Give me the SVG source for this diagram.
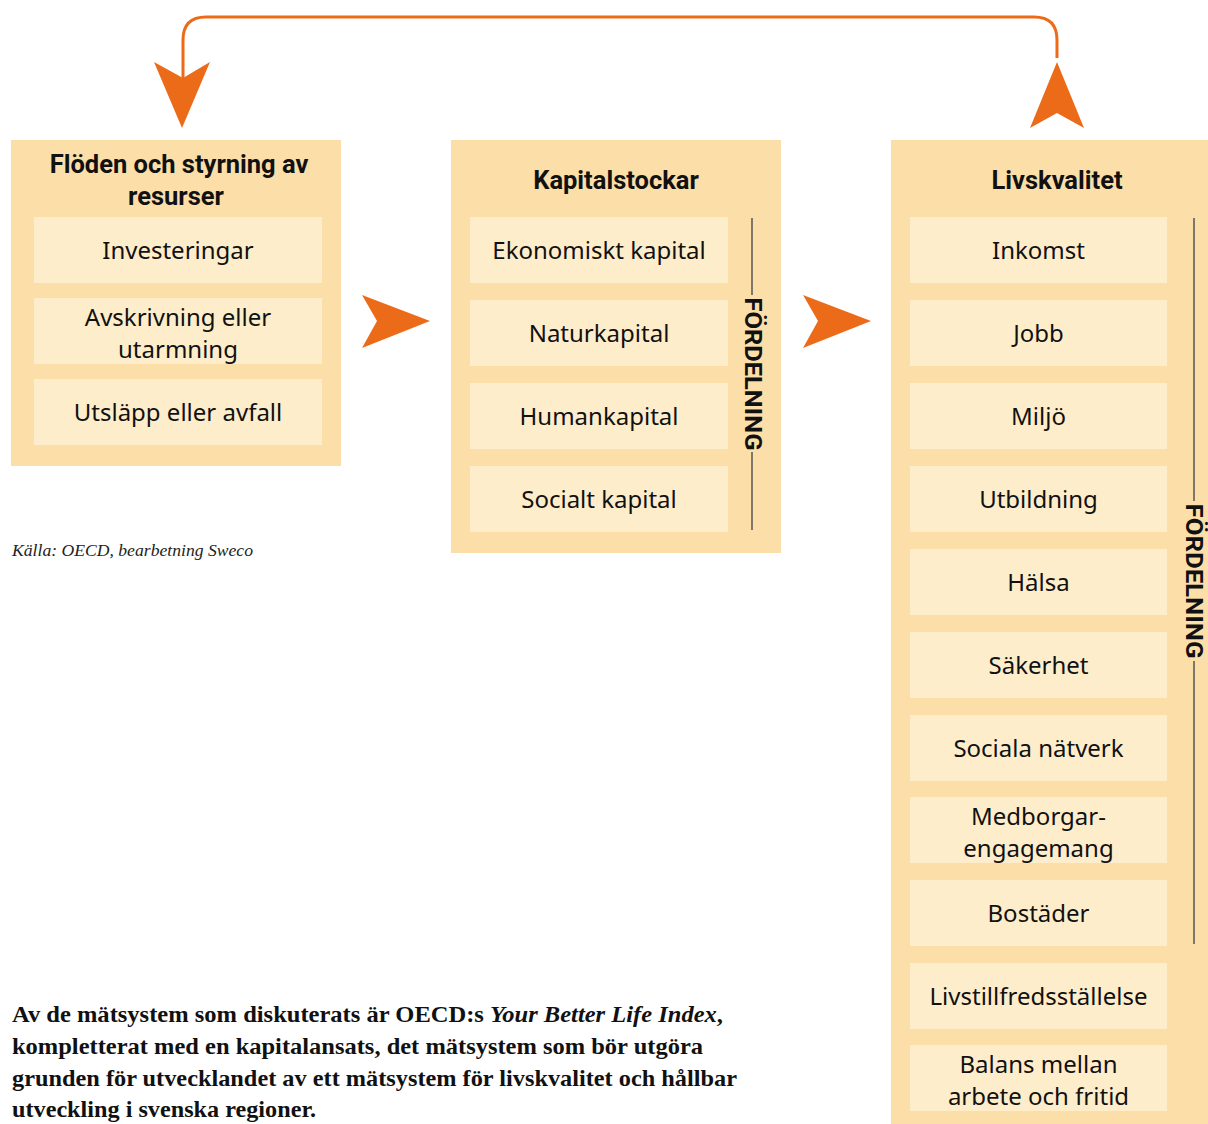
<svg xmlns="http://www.w3.org/2000/svg" width="1208" height="1124" viewBox="0 0 1208 1124">
<style>
.outer{fill:#FCDEA9}
.inner{fill:#FEEDCB}
.title{font-family:Roboto,"Liberation Sans",sans-serif;font-weight:bold;font-size:25.5px;fill:#111;text-anchor:middle}
.item{font-family:"Noto Sans","Liberation Sans",sans-serif;font-size:24px;fill:#111;text-anchor:middle}
.fd{font-family:Roboto,"Liberation Sans",sans-serif;font-weight:bold;font-size:23px;fill:#111;text-anchor:middle}
.vline{stroke:#555;stroke-width:1.5;fill:none}
.conn{stroke:#EC6B19;stroke-width:3;fill:none}
.head{fill:#EC6B19}
.src{font-family:"Liberation Serif",serif;font-style:italic;font-size:17px;fill:#222}
.body{font-family:"Liberation Serif",serif;font-weight:bold;font-size:23px;fill:#111}
</style>

<g id="connectors">
<path class="conn" d="M1057 58 L1057 40 Q1057 17 1034 17 L206 17 Q183 17 183 40 L183 80"/>
<polygon class="head" points="154,62 183,78 210,62 182,128"/>
<polygon class="head" points="1057,62 1084,128 1057,113 1030,128"/>
<polygon class="head" points="362,295 430,321 362,348 377,321"/>
<polygon class="head" points="803,295 871,321 803,348 818,321"/>
</g>

<g id="node-floden">
<rect class="outer" x="11" y="140" width="330" height="326"/>
<text class="title" x="179" y="173">Flöden och styrning av</text>
<text class="title" x="176" y="205">resurser</text>
<rect class="inner" x="34" y="217" width="288" height="66"/>
<text class="item" x="178" y="259">Investeringar</text>
<rect class="inner" x="34" y="298" width="288" height="66"/>
<text class="item" x="178" y="326">Avskrivning eller</text>
<text class="item" x="178" y="358">utarmning</text>
<rect class="inner" x="34" y="379" width="288" height="66"/>
<text class="item" x="178" y="421">Utsläpp eller avfall</text>
</g>

<g id="node-kapital">
<rect class="outer" x="451" y="140" width="330" height="413"/>
<text class="title" x="616" y="189">Kapitalstockar</text>
<rect class="inner" x="470" y="217" width="258" height="66"/>
<text class="item" x="599" y="259">Ekonomiskt kapital</text>
<rect class="inner" x="470" y="300" width="258" height="66"/>
<text class="item" x="599" y="342">Naturkapital</text>
<rect class="inner" x="470" y="383" width="258" height="66"/>
<text class="item" x="599" y="425">Humankapital</text>
<rect class="inner" x="470" y="466" width="258" height="66"/>
<text class="item" x="599" y="508">Socialt kapital</text>
<path class="vline" d="M752 218 L752 295 M752 452 L752 530"/>
<text class="fd" transform="translate(745 374) rotate(90)" textLength="153" lengthAdjust="spacingAndGlyphs">FÖRDELNING</text>
</g>

<g id="node-livskvalitet">
<rect class="outer" x="891" y="140" width="317" height="984"/>
<text class="title" x="1057" y="189">Livskvalitet</text>
<rect class="inner" x="910" y="217" width="257" height="66"/>
<text class="item" x="1038.5" y="259">Inkomst</text>
<rect class="inner" x="910" y="300" width="257" height="66"/>
<text class="item" x="1038.5" y="342">Jobb</text>
<rect class="inner" x="910" y="383" width="257" height="66"/>
<text class="item" x="1038.5" y="425">Miljö</text>
<rect class="inner" x="910" y="466" width="257" height="66"/>
<text class="item" x="1038.5" y="508">Utbildning</text>
<rect class="inner" x="910" y="549" width="257" height="66"/>
<text class="item" x="1038.5" y="591">Hälsa</text>
<rect class="inner" x="910" y="632" width="257" height="66"/>
<text class="item" x="1038.5" y="674">Säkerhet</text>
<rect class="inner" x="910" y="715" width="257" height="66"/>
<text class="item" x="1038.5" y="757">Sociala nätverk</text>
<rect class="inner" x="910" y="797" width="257" height="66"/>
<text class="item" x="1038.5" y="825">Medborgar-</text>
<text class="item" x="1038.5" y="857">engagemang</text>
<rect class="inner" x="910" y="880" width="257" height="66"/>
<text class="item" x="1038.5" y="922">Bostäder</text>
<rect class="inner" x="910" y="963" width="257" height="66"/>
<text class="item" x="1038.5" y="1005">Livstillfredsställelse</text>
<rect class="inner" x="910" y="1045" width="257" height="66"/>
<text class="item" x="1038.5" y="1073">Balans mellan</text>
<text class="item" x="1038.5" y="1105">arbete och fritid</text>
<path class="vline" d="M1194 218 L1194 501 M1194 661 L1194 944"/>
<text class="fd" transform="translate(1186 581) rotate(90)" textLength="155" lengthAdjust="spacingAndGlyphs">FÖRDELNING</text>
</g>

<text class="src" x="12" y="556" textLength="241" lengthAdjust="spacingAndGlyphs">Källa: OECD, bearbetning Sweco</text>

<g id="body-text">
<text class="body" x="12" y="1022" textLength="711" lengthAdjust="spacingAndGlyphs">Av de mätsystem som diskuterats är OECD:s <tspan font-style="italic">Your Better Life Index</tspan>,</text>
<text class="body" x="12" y="1054" textLength="691" lengthAdjust="spacingAndGlyphs">kompletterat med en kapitalansats, det mätsystem som bör utgöra</text>
<text class="body" x="12" y="1086" textLength="725" lengthAdjust="spacingAndGlyphs">grunden för utvecklandet av ett mätsystem för livskvalitet och hållbar</text>
<text class="body" x="12" y="1117" textLength="304" lengthAdjust="spacingAndGlyphs">utveckling i svenska regioner.</text>
</g>
</svg>
